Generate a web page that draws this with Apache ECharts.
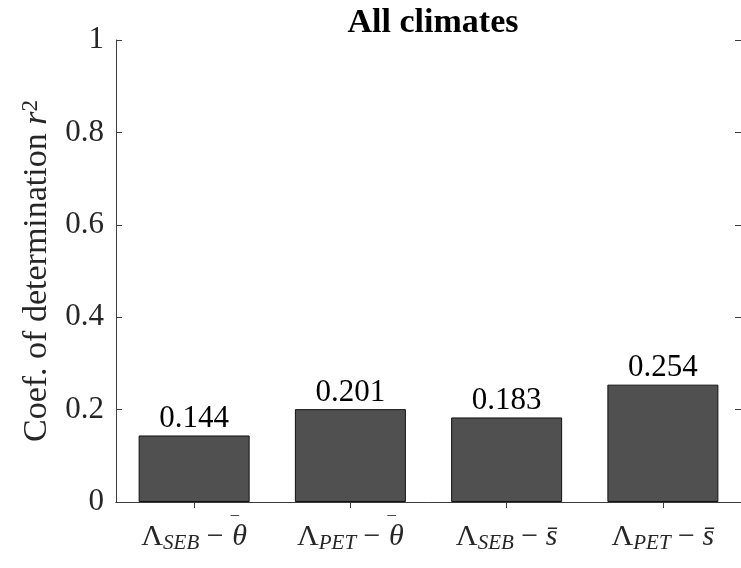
<!DOCTYPE html>
<html>
<head>
<meta charset="utf-8">
<script src="https://cdn.jsdelivr.net/npm/echarts@6/dist/echarts.min.js"></script>
<style>
html,body{margin:0;padding:0;background:#fff;}
#main{width:741px;height:568px;}
</style>
</head>
<body>
<div id="main"></div>
<script>
// Data
var categories = ['SEB|theta', 'PET|theta', 'SEB|s', 'PET|s'];
var subscripts = ['SEB', 'PET', 'SEB', 'PET'];
var variables = ['θ', 'θ', 's̄', 's̄'];
var values = [0.144, 0.201, 0.183, 0.254];
var yTicks = [0, 0.2, 0.4, 0.6, 0.8, 1];
var titleText = 'All climates';

var serif = '"Liberation Serif", "Times New Roman", serif';
var textColor = '#262626';
var axisColor = '#3c3c3c';

var chart = echarts.init(document.getElementById('main'));
chart.setOption({
  animation: false,
  backgroundColor: '#ffffff',
  title: {
    text: titleText,
    left: 428,
    textAlign: 'center',
    top: 1,
    textStyle: { fontFamily: serif, fontWeight: 'bold', fontSize: 34, color: '#000' }
  },
  grid: { left: 116, top: 40, right: -4, bottom: 66, containLabel: false },
  xAxis: [{
    type: 'category',
    data: categories,
    position: 'bottom',
    axisLine: { lineStyle: { color: axisColor, width: 1 } },
    axisTick: { show: true, inside: true, alignWithLabel: true, length: 6, lineStyle: { color: axisColor } },
    axisLabel: {
      interval: 0,
      margin: 18,
      color: textColor,
      formatter: function (v, i) {
        var mac = variables[i] === 'θ' ? '{mac|\u2009\u200A\u203E}' : '';
        return '{L|Λ}{sub|' + subscripts[i] + '}{n| − }' + mac + '{it|' + variables[i] + '}';
      },
      rich: {
        L: { fontFamily: serif, fontSize: 30, color: textColor, lineHeight: 34 },
        sub: { fontFamily: serif, fontSize: 21, fontStyle: 'italic', color: textColor, verticalAlign: 'bottom', lineHeight: 34 },
        n: { fontFamily: serif, fontSize: 30, color: textColor, lineHeight: 34 },
        mac: { fontFamily: serif, fontSize: 22, color: textColor, width: 1, verticalAlign: 'bottom', lineHeight: 34, padding: [0, 0, 17, 0] },
        it: { fontFamily: serif, fontSize: 30, fontStyle: 'italic', color: textColor, lineHeight: 34 }
      }
    }
  }, {
    type: 'category',
    data: categories,
    position: 'top',
    axisLine: { show: true, lineStyle: { color: axisColor, width: 1 } },
    axisTick: { show: true, inside: true, alignWithLabel: true, length: 6, lineStyle: { color: axisColor } },
    axisLabel: { show: false }
  }],
  yAxis: [{
    type: 'value',
    min: 0,
    max: 1,
    interval: 0.2,
    position: 'left',
    name: 'Coef. of determination {i|r}{sup|2}',
    nameLocation: 'middle',
    nameGap: 58,
    nameTextStyle: {
      fontFamily: serif, fontSize: 34, color: textColor,
      rich: {
        i: { fontFamily: serif, fontSize: 34, fontStyle: 'italic', color: textColor },
        sup: { fontFamily: serif, fontSize: 23, color: textColor, verticalAlign: 'top', padding: [0, 0, 12, 0] }
      }
    },
    splitLine: { show: false },
    axisLine: { show: true, lineStyle: { color: axisColor, width: 1 } },
    axisTick: { show: true, inside: true, length: 6, lineStyle: { color: axisColor } },
    axisLabel: {
      margin: 12,
      fontFamily: serif, fontSize: 31, color: textColor,
      formatter: function (v) { return String(Math.round(v * 10) / 10); }
    }
  }, {
    type: 'value',
    min: 0,
    max: 1,
    interval: 0.2,
    position: 'right',
    splitLine: { show: false },
    axisLine: { show: true, lineStyle: { color: axisColor, width: 1 } },
    axisTick: { show: true, inside: true, length: 6, lineStyle: { color: axisColor } },
    axisLabel: { show: false }
  }],
  series: [{
    type: 'bar',
    data: values,
    barWidth: 111,
    itemStyle: { color: '#505050', borderColor: '#111111', borderWidth: 1 },
    label: {
      show: true,
      position: 'top',
      distance: 1,
      fontFamily: serif, fontSize: 31, color: '#000',
      formatter: function (p) { return p.value.toFixed(3); }
    }
  }]
});
</script>
</body>
</html>
